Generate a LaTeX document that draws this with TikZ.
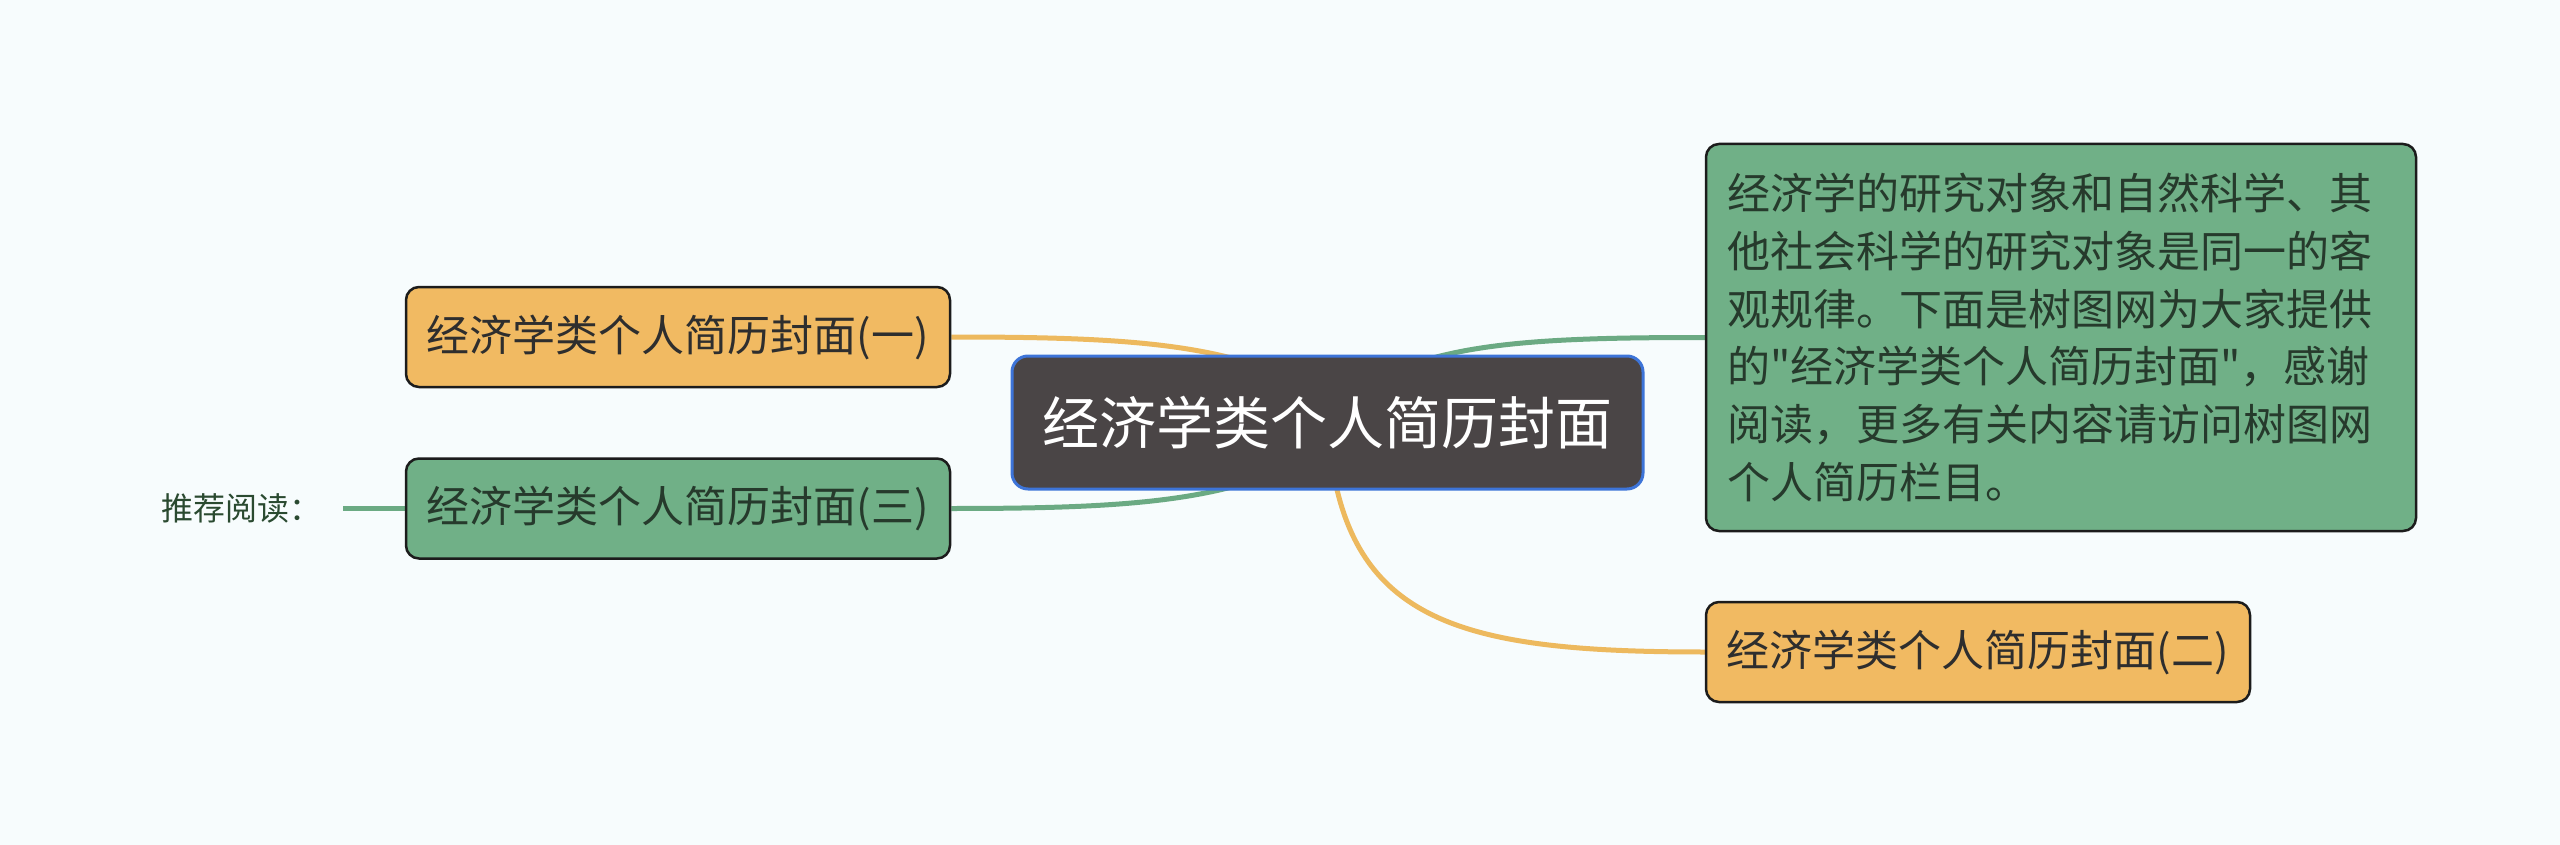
\documentclass[tikz,border=0pt]{standalone}
\usepackage{fontspec}
\setmainfont{Noto Sans CJK SC}[Ligatures=TeXOff]
\usetikzlibrary{calc}
\pgfdeclarelayer{bg}
\pgfsetlayers{bg,main}
\definecolor{bgc}{HTML}{F7FCFD}
\definecolor{orangefill}{HTML}{F1BA62}
\definecolor{greenfill}{HTML}{70B087}
\definecolor{orangeline}{HTML}{EDB95E}
\definecolor{greenline}{HTML}{6BAA83}
\definecolor{darkfill}{HTML}{4A4546}
\definecolor{blueborder}{HTML}{3D74D8}
\definecolor{nodeborder}{HTML}{1C1C1C}
\definecolor{textdark}{HTML}{2E2E2E}
\definecolor{textgreen}{HTML}{263A2C}
\definecolor{rectext}{HTML}{2A4A30}
\tikzset{
  centralbox/.style={draw=blueborder, line width=3pt, fill=darkfill, rounded corners=16pt,
    minimum width=631pt, minimum height=133pt, inner sep=0pt, text=white,
    font=\fontsize{57}{68}\selectfont},
  branchbox/.style={draw=nodeborder, line width=2.5pt, rounded corners=13pt,
    minimum width=544pt, minimum height=100pt, inner sep=0pt,
    font=\fontsize{43}{52}\selectfont},
  orangebox/.style={branchbox, fill=orangefill, text=textdark},
  greenbox/.style={branchbox, fill=greenfill, text=textgreen},
  detailbox/.style={draw=nodeborder, line width=2.5pt, rounded corners=13pt, fill=greenfill,
    text=textgreen, text width=668pt, align=left, inner xsep=21pt, inner ysep=0pt,
    minimum height=387pt, font=\fontsize{43}{57.8}\selectfont},
  rectextstyle/.style={inner sep=0pt, text=rectext, font=\fontsize{32}{38}\selectfont},
  linkO/.style={draw=orangeline, line width=5pt},
  linkG/.style={draw=greenline, line width=5pt},
}
\begin{document}
\begin{tikzpicture}[x=1pt,y=-1pt]
\useasboundingbox (0,0) rectangle (2560,845);
\node[centralbox] (c) at (1327.5,422.5) {经济学类个人简历封面};
\node[orangebox] (n1) at (678,337) {经济学类个人简历封面(一)};
\node[greenbox] (n3) at (678,508.5) {经济学类个人简历封面(三)};
\node[orangebox] (n2) at (1978,652) {经济学类个人简历封面(二)};
\node[detailbox] (d) at (2061,337.5) {经济学的研究对象和自然科学、其\\他社会科学的研究对象是同一的客\\观规律。下面是树图网为大家提供\\的"经济学类个人简历封面"，感谢\\阅读，更多有关内容请访问树图网\\个人简历栏目。};
\node[rectextstyle, anchor=west] (rec) at (161,508) {推荐阅读：};
\coordinate (recend) at (343,508.5);
\begin{pgfonlayer}{bg}
\fill[bgc] (0,0) rectangle (2560,845);
\draw[linkO] (n1.east) .. controls (1110,337) and (1210,342) .. ($(c.north)+(-37,24)$);
\draw[linkG] (n3.east) .. controls (1110,508.5) and (1210,503) .. ($(c.south)+(-37,-24)$);
\draw[linkG] (d.west) .. controls (1560,337.5) and (1460,341) .. ($(c.north)+(62,19)$);
\draw[linkO] (c.center) .. controls (1340,620) and (1450,652) .. (n2.west);
\draw[linkG] (recend) -- (n3.west);
\end{pgfonlayer}
\end{tikzpicture}
\end{document}
